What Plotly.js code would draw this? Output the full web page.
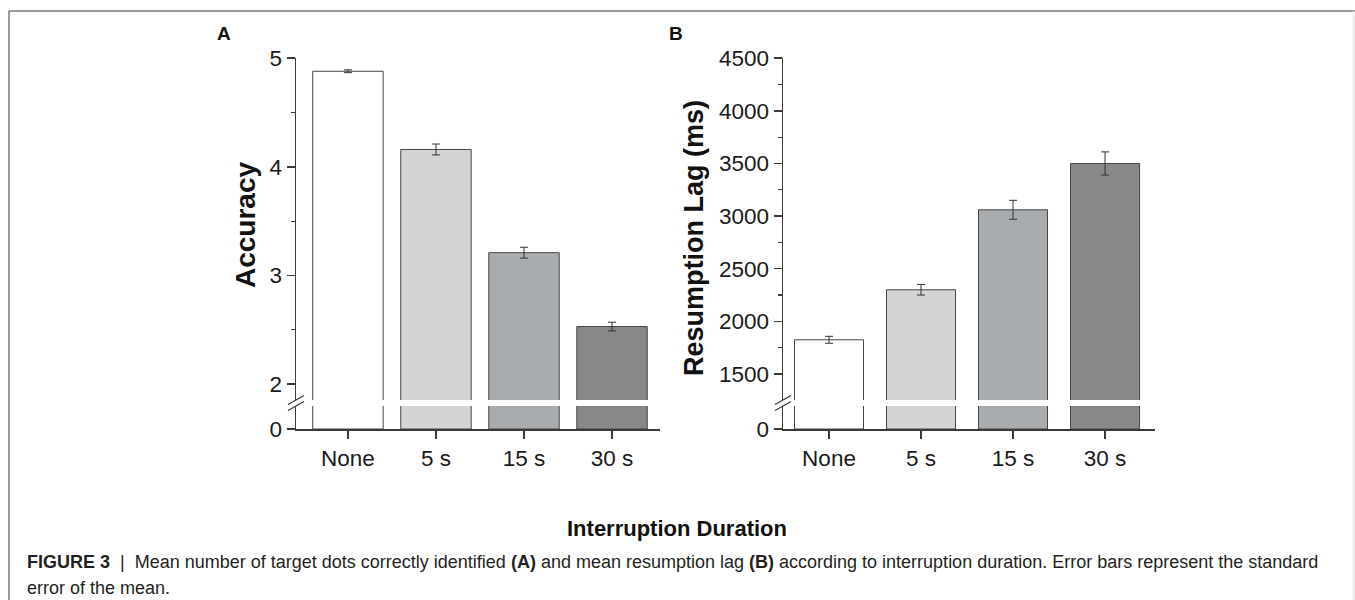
<!DOCTYPE html>
<html>
<head>
<meta charset="utf-8">
<script src="https://cdn.plot.ly/plotly-3.0.1.min.js"></script>
<style>
  html, body { margin: 0; padding: 0; background: #ffffff; }
  #chart { width: 1355px; height: 600px; }
</style>
</head>
<body>
<div id="chart"></div>
<script>
// ---- Data ----
const categories = ['None', '5 s', '15 s', '30 s'];
const accuracy = [4.88, 4.16, 3.21, 2.53];
const accuracyErr = [0.013, 0.05, 0.05, 0.04];
const resumptionLag = [1825, 2300, 3060, 3500];
const resumptionLagErr = [33, 50, 90, 110];
const barColors = ['#ffffff', '#d3d4d6', '#a9acaf', '#87888a'];

const accuracyTicks = [2, 3, 4, 5];
const lagTicks = [1500, 2000, 2500, 3000, 3500, 4000, 4500];

// ---- helpers for paper coordinates (figure is 1355 x 600, zero margins) ----
const W = 1355, H = 600;
const px = v => v / W;
const py = v => 1 - v / H;

const FONT = 'Liberation Sans, Arial, Helvetica, sans-serif';
const AXIS_COLOR = '#3a3a3a';
const TEXT_COLOR = '#1a1a1a';

function barTrace(xa, ya, yvals, err, width) {
  const t = {
    type: 'bar',
    x: categories,
    y: yvals,
    xaxis: xa,
    yaxis: ya,
    width: width,
    marker: { color: barColors, line: { color: '#454545', width: 1 } },
    hoverinfo: 'x+y',
    showlegend: false
  };
  if (err) {
    t.error_y = { type: 'data', array: err, visible: true, color: '#333333', thickness: 1, width: 4 };
  }
  return t;
}

const data = [
  barTrace('x', 'y', accuracy, null, 0.8),
  barTrace('x', 'y2', accuracy, accuracyErr, 0.8),
  barTrace('x2', 'y3', resumptionLag, null, 0.75),
  barTrace('x2', 'y4', resumptionLag, resumptionLagErr, 0.75)
];

const tickFont = { family: FONT, size: 22.5, color: TEXT_COLOR };

const xCommon = {
  type: 'category',
  showline: true, linecolor: AXIS_COLOR, linewidth: 1.5,
  ticks: 'outside', ticklen: 8, tickwidth: 1.5, tickcolor: AXIS_COLOR,
  showgrid: false, zeroline: false,
  tickfont: tickFont, fixedrange: true
};
const yCommon = {
  showline: true, linecolor: AXIS_COLOR, linewidth: 1.5,
  ticks: 'outside', ticklen: 8, tickwidth: 1.5, tickcolor: AXIS_COLOR,
  showgrid: false, zeroline: false,
  tickfont: tickFont, fixedrange: true
};

// domains (pixel rows converted to paper)
const lowerDom = [py(429), py(406)];
const upperDom = [py(400), py(58)];

const layout = {
  width: W, height: H,
  margin: { l: 0, r: 0, t: 0, b: 0, pad: 0 },
  paper_bgcolor: '#ffffff',
  plot_bgcolor: 'rgba(0,0,0,0)',
  font: { family: FONT, color: TEXT_COLOR },
  bargap: 0.2,
  xaxis: Object.assign({}, xCommon, {
    domain: [px(296), px(660)], anchor: 'y', range: [-0.59, 3.545]
  }),
  yaxis: Object.assign({}, yCommon, {
    domain: lowerDom, anchor: 'x', range: [0, 0.21],
    tickmode: 'array', tickvals: [0], ticktext: ['0']
  }),
  yaxis2: Object.assign({}, yCommon, {
    domain: upperDom, anchor: 'x', range: [1.854, 5.002],
    tickmode: 'array', tickvals: accuracyTicks, ticktext: accuracyTicks.map(String),
    minor: { tickmode: 'linear', tick0: 0, dtick: 0.5, ticks: 'outside', ticklen: 4, tickwidth: 1.2, tickcolor: AXIS_COLOR, showgrid: false }
  }),
  xaxis2: Object.assign({}, xCommon, {
    domain: [px(783), px(1155)], anchor: 'y3', range: [-0.5, 3.543]
  }),
  yaxis3: Object.assign({}, yCommon, {
    domain: lowerDom, anchor: 'x2', range: [0, 200],
    tickmode: 'array', tickvals: [0], ticktext: ['0']
  }),
  yaxis4: Object.assign({}, yCommon, {
    domain: upperDom, anchor: 'x2', range: [1253, 4502],
    tickmode: 'array', tickvals: lagTicks, ticktext: lagTicks.map(String),
    minor: { tickmode: 'linear', tick0: 0, dtick: 250, ticks: 'outside', ticklen: 4, tickwidth: 1.2, tickcolor: AXIS_COLOR, showgrid: false }
  }),
  annotations: [
    { text: '<b>A</b>', x: px(224), y: py(34), xref: 'paper', yref: 'paper', showarrow: false,
      font: { family: FONT, size: 19, color: '#111' }, xanchor: 'center', yanchor: 'middle' },
    { text: '<b>B</b>', x: px(676), y: py(34), xref: 'paper', yref: 'paper', showarrow: false,
      font: { family: FONT, size: 19, color: '#111' }, xanchor: 'center', yanchor: 'middle' },
    { text: '<b>Accuracy</b>', x: px(245), y: py(225), xref: 'paper', yref: 'paper', showarrow: false,
      textangle: -90, font: { family: FONT, size: 28, color: '#111' }, xanchor: 'center', yanchor: 'middle' },
    { text: '<b>Resumption Lag (ms)</b>', x: px(694), y: py(238), xref: 'paper', yref: 'paper', showarrow: false,
      textangle: -90, font: { family: FONT, size: 27, color: '#111' }, xanchor: 'center', yanchor: 'middle' },
    { text: '<b>Interruption Duration</b>', x: px(677), y: py(528), xref: 'paper', yref: 'paper', showarrow: false,
      font: { family: FONT, size: 22, color: '#111' }, xanchor: 'center', yanchor: 'middle' },
    { text: '<b>FIGURE 3</b>  |  Mean number of target dots correctly identified <b>(A)</b> and mean resumption lag <b>(B)</b> according to interruption duration. Error bars represent the standard',
      x: px(25), y: py(562), xref: 'paper', yref: 'paper', showarrow: false, align: 'left',
      font: { family: FONT, size: 18, color: '#231f20' }, xanchor: 'left', yanchor: 'middle' },
    { text: 'error of the mean.',
      x: px(25), y: py(588), xref: 'paper', yref: 'paper', showarrow: false, align: 'left',
      font: { family: FONT, size: 18, color: '#231f20' }, xanchor: 'left', yanchor: 'middle' }
  ],
  shapes: [
    // figure frame
    { type: 'line', xref: 'paper', yref: 'paper', x0: px(9), x1: 1, y0: py(11), y1: py(11), line: { color: '#777777', width: 1.5 } },
    { type: 'line', xref: 'paper', yref: 'paper', x0: px(9), x1: px(9), y0: py(11), y1: 0, line: { color: '#777777', width: 1.5 } },
    { type: 'line', xref: 'paper', yref: 'paper', x0: px(1353.5), x1: px(1353.5), y0: py(11), y1: 0, line: { color: '#e6e6e6', width: 1.5 } },
    // axis-break slashes, panel A
    { type: 'line', xref: 'paper', yref: 'paper', x0: px(288), x1: px(304), y0: py(404.5), y1: py(395.5), line: { color: AXIS_COLOR, width: 1.3 } },
    { type: 'line', xref: 'paper', yref: 'paper', x0: px(288), x1: px(304), y0: py(410.5), y1: py(401.5), line: { color: AXIS_COLOR, width: 1.3 } },
    // axis-break slashes, panel B
    { type: 'line', xref: 'paper', yref: 'paper', x0: px(775), x1: px(791), y0: py(404.5), y1: py(395.5), line: { color: AXIS_COLOR, width: 1.3 } },
    { type: 'line', xref: 'paper', yref: 'paper', x0: px(775), x1: px(791), y0: py(410.5), y1: py(401.5), line: { color: AXIS_COLOR, width: 1.3 } }
  ]
};

Plotly.newPlot('chart', data, layout, { displayModeBar: false, staticPlot: true });
</script>
</body>
</html>
